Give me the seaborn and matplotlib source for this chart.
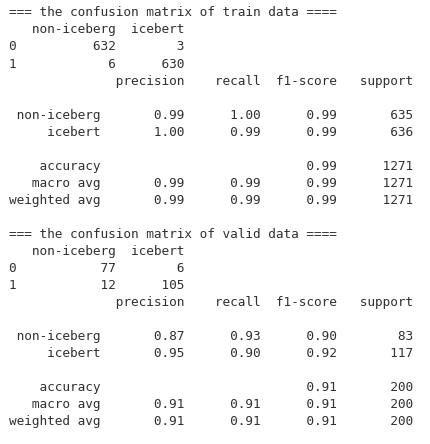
import numpy as np
import pandas as pd
from matplotlib import pyplot as plt
import seaborn as sns

class_names = ['non-iceberg', 'icebert']

# train data
train_cm = [[632, 3], [6, 630]]
train_precision = [0.99, 1.00]
train_recall = [1.00, 0.99]
train_f1 = [0.99, 0.99]
train_support = [635, 636]
train_accuracy = 0.99
train_macro = [0.99, 0.99, 0.99]
train_weighted = [0.99, 0.99, 0.99]

# valid data
valid_cm = [[77, 6], [12, 105]]
valid_precision = [0.87, 0.95]
valid_recall = [0.93, 0.90]
valid_f1 = [0.90, 0.92]
valid_support = [83, 117]
valid_accuracy = 0.91
valid_macro = [0.91, 0.91, 0.91]
valid_weighted = [0.91, 0.91, 0.91]


def report_lines(precision, recall, f1, support, accuracy, macro, weighted):
    # same layout as sklearn's classification_report
    width = max(max(len(c) for c in class_names), len('weighted avg'))
    head = '{:>{width}s} ' + ' {:>9}' * 4
    row = '{:>{width}s} ' + ' {:>9.2f}' * 3 + ' {:>9}'
    lines = [head.format('', 'precision', 'recall', 'f1-score', 'support', width=width), '']
    for name, p, r, f, s in zip(class_names, precision, recall, f1, support):
        lines.append(row.format(name, p, r, f, s, width=width))
    lines.append('')
    total = sum(support)
    acc = '{:>{width}s} ' + ' {:>9}' * 2 + ' {:>9.2f}' + ' {:>9}'
    lines.append(acc.format('accuracy', '', '', accuracy, total, width=width))
    lines.append(row.format('macro avg', *macro, total, width=width))
    lines.append(row.format('weighted avg', *weighted, total, width=width))
    return lines


def block(name, cm, *rep):
    lines = ['=== the confusion matrix of %s data ====' % name]
    lines += pd.DataFrame(np.array(cm), columns=class_names).to_string().split('\n')
    lines += report_lines(*rep)
    return lines


all_lines = block('train', train_cm, train_precision, train_recall, train_f1, train_support,
                  train_accuracy, train_macro, train_weighted)
all_lines.append('')
all_lines += block('valid', valid_cm, valid_precision, valid_recall, valid_f1, valid_support,
                   valid_accuracy, valid_macro, valid_weighted)

sns.set_theme(style='white')
fig = plt.figure(figsize=(4.30, 4.44), dpi=100)
ax = fig.add_axes([0, 0, 1, 1])
ax.set_xlim(0, 430)
ax.set_ylim(444, 0)
ax.axis('off')

for i, line in enumerate(all_lines):
    ax.text(9, 13 + 17 * i, line, family='DejaVu Sans Mono', fontsize=9.2,
            color='#303030', va='center', ha='left')

fig.savefig('out.png', dpi=100, facecolor='white')
